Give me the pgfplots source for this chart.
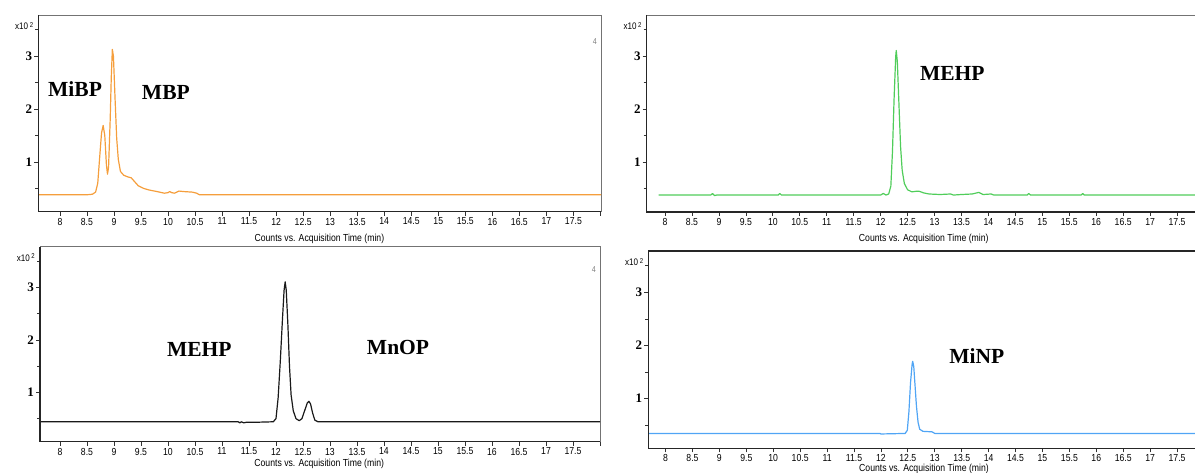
\documentclass[border=0pt]{standalone}
\usepackage{fontspec}
\setmainfont{Liberation Serif}
\newfontfamily\tnarrow[FakeStretch=0.85]{Liberation Sans}
\usepackage{pgfplots}
\pgfplotsset{compat=1.18}
\definecolor{corange}{RGB}{245,158,60}
\definecolor{cgreen}{RGB}{80,205,90}
\definecolor{cblue}{RGB}{80,165,245}
\newcommand{\ticksf}{\tnarrow\fontsize{10.2}{11}\selectfont}
\newcommand{\annot}{\fontsize{21.5}{24}\selectfont\bfseries}
\pgfplotsset{
  chrom/.style={
    scale only axis,
    ymin=0.06, ymax=3.78,
    ytick={1,2,3},
    yticklabels={1,2,3},
    minor ytick={0.5,1.5,2.5,3.5},
    xtick={8,8.5,9,9.5,10,10.5,11,11.5,12,12.5,13,13.5,14,14.5,15,15.5,16,16.5,17,17.5,18},
    xticklabels={8,8.5,9,9.5,10,10.5,11,11.5,12,12.5,13,13.5,14,14.5,15,15.5,16,16.5,17,17.5,{}},
    tick pos=left,
    tick align=outside,
    major tick length=4pt,
    minor tick length=3pt,
    tick style={black!80, line width=0.7pt},
    axis line style={black!55, line width=0.9pt},
    /pgf/number format/assume math mode=true,
    xticklabel style={font=\ticksf, inner sep=2pt},
    yticklabel style={font=\fontsize{13}{14}\selectfont\bfseries, inner sep=2pt},
    clip mode=individual,
    every axis plot/.append style={line width=1.2pt, line join=round},
  },
}
\newcommand{\decor}[1]{%
  \draw[black!85, line width=1.4pt] (rel axis cs:0,1) -- (rel axis cs:0,0) -- (rel axis cs:1,0);
  \node[font=\ticksf] at (axis cs:12.8,0.06) [yshift=-#1] {Counts vs. Acquisition Time (min)};
  \node[font=\tnarrow\fontsize{9.5}{10}\selectfont, anchor=east, inner sep=0pt] at (rel axis cs:0,1) [xshift=-5pt, yshift=-11pt] {x10\,\raisebox{0.55ex}{\fontsize{7}{7}\selectfont 2}};
}
\begin{document}
\begin{tikzpicture}[x=1pt,y=1pt]
% ---------------- top left ----------------
\begin{axis}[chrom, at={(38.3pt,261.3pt)}, anchor=south west,
  width=562.7pt, height=196.7pt, xmin=7.60, xmax=18.01]
\addplot[corange] coordinates {
(7.55,0.38) (8.5,0.38) (8.6,0.39) (8.66,0.43) (8.70,0.6) (8.74,1.15) (8.77,1.55)
(8.80,1.69) (8.83,1.5) (8.86,0.95) (8.88,0.77) (8.90,0.9) (8.93,1.8) (8.95,2.6)
(8.97,3.13) (8.99,3.0) (9.02,2.2) (9.05,1.45) (9.08,1.05) (9.12,0.82) (9.18,0.75)
(9.25,0.72) (9.32,0.70) (9.38,0.63) (9.45,0.55) (9.55,0.5) (9.65,0.47) (9.8,0.44)
(9.93,0.41) (10.0,0.42) (10.03,0.44) (10.07,0.42) (10.12,0.41) (10.2,0.45) (10.3,0.44)
(10.45,0.43) (10.53,0.41) (10.58,0.38) (18.1,0.38)};
\decor{27pt}
\node[font=\annot] at (axis cs:8.28,2.37) {MiBP};
\node[font=\annot] at (axis cs:9.96,2.32) {MBP};
\node[font=\tnarrow\fontsize{8.5}{9}\selectfont, text=black!50, anchor=east, inner sep=0pt] at (rel axis cs:1,1) [xshift=-4pt, yshift=-27pt] {4};
\end{axis}
% ---------------- bottom left ----------------
\begin{axis}[chrom, at={(40pt,31.3pt)}, anchor=south west,
  width=560pt, height=195pt, xmin=7.63, xmax=18.0]
\addplot[black!90] coordinates {
(7.55,0.44) (11.3,0.44) (11.33,0.42) (11.36,0.44) (11.4,0.42) (11.45,0.43) (11.6,0.43)
(11.95,0.44) (12.0,0.5) (12.04,0.9) (12.08,1.6) (12.12,2.4) (12.15,2.95) (12.17,3.11)
(12.19,2.95) (12.22,2.3) (12.25,1.5) (12.28,0.95) (12.32,0.65) (12.37,0.5) (12.43,0.46)
(12.48,0.5) (12.53,0.65) (12.58,0.8) (12.61,0.83) (12.64,0.78) (12.68,0.6) (12.72,0.47)
(12.78,0.44) (12.9,0.44) (18.1,0.44)};
\decor{22pt}
\node[font=\annot] at (axis cs:10.58,1.82) {MEHP};
\node[font=\annot] at (axis cs:14.26,1.85) {MnOP};
\node[font=\tnarrow\fontsize{8.5}{9}\selectfont, text=black!50, anchor=east, inner sep=0pt] at (rel axis cs:1,1) [xshift=-4pt, yshift=-23pt] {4};
\end{axis}
% ---------------- top right ----------------
\begin{axis}[chrom, at={(646.7pt,261pt)}, anchor=south west,
  width=557.3pt, height=197pt, xmin=7.66, xmax=18.0]
\addplot[cgreen] coordinates {
(7.88,0.38) (8.85,0.38) (8.88,0.41) (8.92,0.37) (8.96,0.38) (10.1,0.38) (10.13,0.41)
(10.16,0.38) (12.0,0.38) (12.05,0.41) (12.1,0.38) (12.15,0.40) (12.19,0.55) (12.22,1.2)
(12.25,2.2) (12.28,3.0) (12.29,3.11) (12.31,2.9) (12.34,2.1) (12.37,1.3) (12.40,0.85)
(12.44,0.6) (12.5,0.48) (12.58,0.44) (12.65,0.45) (12.72,0.45) (12.8,0.42) (12.9,0.40)
(13.1,0.39) (13.3,0.40) (13.35,0.38) (13.5,0.39) (13.7,0.40) (13.82,0.43) (13.9,0.39)
(14.05,0.40) (14.1,0.38) (14.72,0.38) (14.75,0.41) (14.78,0.38) (15.72,0.38) (15.75,0.41)
(15.78,0.38) (18.1,0.38)};
\decor{27pt}
\node[font=\annot] at (axis cs:13.33,2.68) {MEHP};
\end{axis}
% ---------------- bottom right ----------------
\begin{axis}[chrom, at={(648.3pt,24.7pt)}, anchor=south west,
  width=555.7pt, height=197.3pt, xmin=7.68, xmax=18.0]
\addplot[cblue] coordinates {
(7.6,0.34) (11.98,0.34) (12.0,0.33) (12.45,0.34) (12.49,0.4) (12.52,0.75) (12.55,1.3)
(12.58,1.65) (12.59,1.70) (12.61,1.6) (12.63,1.3) (12.66,0.85) (12.69,0.55) (12.72,0.42)
(12.78,0.38) (12.95,0.37) (13.0,0.34) (18.1,0.34)};
\decor{21pt}
\draw[black!85, line width=1.6pt] (rel axis cs:0,1) -- (rel axis cs:1,1);
\node[font=\annot] at (axis cs:13.78,1.80) {MiNP};
\end{axis}
\pgfresetboundingbox
\path[use as bounding box] (0,0) rectangle (1195,473);
\end{tikzpicture}
\end{document}
